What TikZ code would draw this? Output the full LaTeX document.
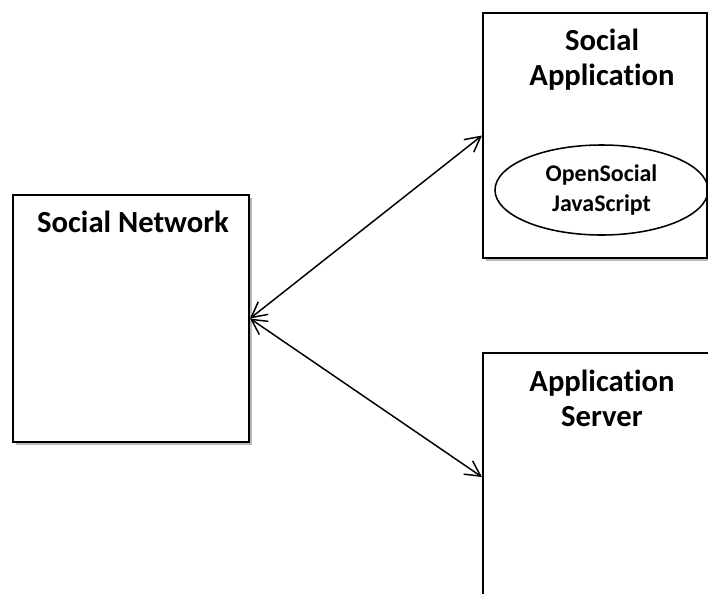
\documentclass[tikz,border=0pt]{standalone}
\usepackage{fontspec}
\setmainfont{Carlito}[Ligatures=NoCommon]
\usetikzlibrary{positioning,shapes.geometric,shadows,arrows.meta}
\tikzstyle{box}=[draw,line width=1.4pt,fill=white,
  drop shadow={shadow xshift=0.07cm,shadow yshift=-0.07cm,fill=black!45,opacity=0.6}]
\tikzstyle{title}=[font=\bfseries\fontsize{21.8}{24.3}\selectfont,align=center,anchor=base,inner sep=0pt]
\tikzstyle{jsnode}=[draw,ellipse,line width=1.1pt,minimum width=5.325cm,minimum height=2.25cm,
  font=\bfseries\fontsize{17}{22}\selectfont,align=center,inner sep=0pt]
\tikzstyle{conn}=[line width=1.05pt,{Straight Barb[length=0.38cm,width=0.4cm]}-{Straight Barb[length=0.38cm,width=0.4cm]}]

\begin{document}
\begin{tikzpicture}[x=0.025cm,y=-0.025cm]
  \clip (0,0) rectangle (708,593);
  \fill[white] (0,0) rectangle (708,593);

  \node[box,minimum width=5.9cm,minimum height=6.175cm] (sn) at (131,318.5) {};
  \node[box,minimum width=5.6cm,minimum height=6.125cm] (sa) at (595,135.5) {};
  \node[box,minimum width=6.25cm,minimum height=6.2cm] (as) at (608,477) {};

  \node[title] (sntitle) at (133,232) {Social Network};
  \node[title] (satitle) at (602,85) {Social\\Application};
  \node[title] (astitle) at (602,426) {Application\\Server};

  \node[jsnode] (js) at (601.5,190) {OpenSocial\\JavaScript};

  \draw[conn] (sn.east) -- (sa.west);
  \draw[conn] (sn.east) -- (as.west);
\end{tikzpicture}
\end{document}
